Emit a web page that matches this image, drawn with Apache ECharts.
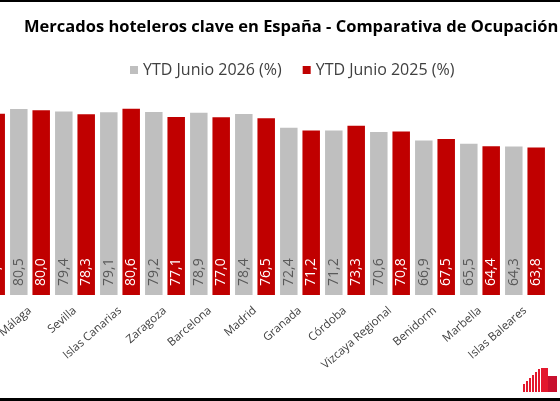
<!DOCTYPE html>
<html>
<head>
<meta charset="utf-8">
<script src="https://cdn.jsdelivr.net/npm/echarts@6/dist/echarts.min.js"></script>
<style>
html,body{margin:0;padding:0;background:#fff;overflow:hidden;width:560px;height:401px;position:relative;}
#chart{position:absolute;left:-40px;top:0;width:640px;height:401px;}
</style>
</head>
<body>
<div id="chart"></div>
<script>
// Data (first category is cropped out of the reference image)
const categories = ["Valencia", "Málaga", "Sevilla", "Islas Canarias", "Zaragoza", "Barcelona", "Madrid", "Granada", "Córdoba", "Vizcaya Regional", "Benidorm", "Marbella", "Islas Baleares"];
const ytd2026 = [81.0, 80.5, 79.4, 79.1, 79.2, 78.9, 78.4, 72.4, 71.2, 70.6, 66.9, 65.5, 64.3];
const ytd2025 = [78.5, 80.0, 78.3, 80.6, 77.1, 77.0, 76.5, 71.2, 73.3, 70.8, 67.5, 64.4, 63.8];
const seriesNames = ["YTD Junio 2026 (%)", "YTD Junio 2025 (%)"];
const titleText = "Mercados hoteleros clave en España - Comparativa de Ocupación (%)";

const FONT = "Open Sans";
const OFF = 40; // horizontal offset of the chart div (cropped left side)
const fmt = p => p.value.toFixed(1).replace('.', ',');

const chart = echarts.init(document.getElementById('chart'), null, {renderer: 'canvas'});
chart.setOption({
  backgroundColor: '#ffffff',
  animation: false,
  title: {
    text: titleText,
    left: OFF + 19, top: 14,
    textStyle: {fontFamily: FONT, fontSize: 16.5, fontWeight: 'bold', color: '#000'}
  },
  legend: {
    left: OFF + 125, top: 57,
    itemWidth: 8, itemHeight: 8, itemGap: 21,
    icon: 'rect',
    textStyle: {fontFamily: FONT, fontSize: 16, color: '#404040'},
    data: seriesNames
  },
  grid: {left: OFF - 37.5, right: 640 - OFF - 547.5, top: 64, bottom: 106, containLabel: false, outerBoundsMode: 'none'},
  xAxis: {
    type: 'category',
    data: categories,
    axisLine: {show: false},
    axisTick: {show: false},
    axisLabel: {
      interval: 0, rotate: 41, margin: 14,
      fontFamily: FONT, fontSize: 11.5, color: '#404040'
    }
  },
  yAxis: {
    type: 'value', min: 0, max: 100,
    show: false,
    splitLine: {show: false}
  },
  series: [
    {
      name: seriesNames[0], type: 'bar', data: ytd2026,
      barWidth: 17.5, barGap: '28%',
      itemStyle: {color: '#BFBFBF'},
      label: {
        show: true, position: 'insideBottom', rotate: 90, align: 'left', verticalAlign: 'middle',
        distance: 9, formatter: fmt, fontFamily: FONT, fontSize: 14, color: '#595959'
      }
    },
    {
      name: seriesNames[1], type: 'bar', data: ytd2025,
      barWidth: 17.5,
      itemStyle: {color: '#C00000'},
      label: {
        show: true, position: 'insideBottom', rotate: 90, align: 'left', verticalAlign: 'middle',
        distance: 9, formatter: fmt, fontFamily: FONT, fontSize: 14, color: '#ffffff'
      }
    }
  ],
  graphic: [
    {type: 'rect', shape: {x: 0, y: 0, width: 640, height: 2}, style: {fill: '#000'}},
    {type: 'rect', shape: {x: 0, y: 398, width: 640, height: 3}, style: {fill: '#000'}},
    {type: 'group', left: OFF + 523, top: 368, children: [
      {type: 'rect', shape: {x: 0, y: 16, width: 2, height: 8}, style: {fill: '#E3182D'}},
      {type: 'rect', shape: {x: 3, y: 13, width: 2, height: 11}, style: {fill: '#E3182D'}},
      {type: 'rect', shape: {x: 6, y: 10, width: 2, height: 14}, style: {fill: '#E3182D'}},
      {type: 'rect', shape: {x: 9, y: 7, width: 2, height: 17}, style: {fill: '#E3182D'}},
      {type: 'rect', shape: {x: 12, y: 4, width: 2, height: 20}, style: {fill: '#E3182D'}},
      {type: 'rect', shape: {x: 15, y: 1, width: 2, height: 23}, style: {fill: '#E3182D'}},
      {type: 'rect', shape: {x: 18, y: 0, width: 7, height: 24}, style: {fill: '#E3182D'}},
      {type: 'rect', shape: {x: 25, y: 8, width: 9, height: 16}, style: {fill: '#C8102E'}}
    ]}
  ]
});
</script>
</body>
</html>
